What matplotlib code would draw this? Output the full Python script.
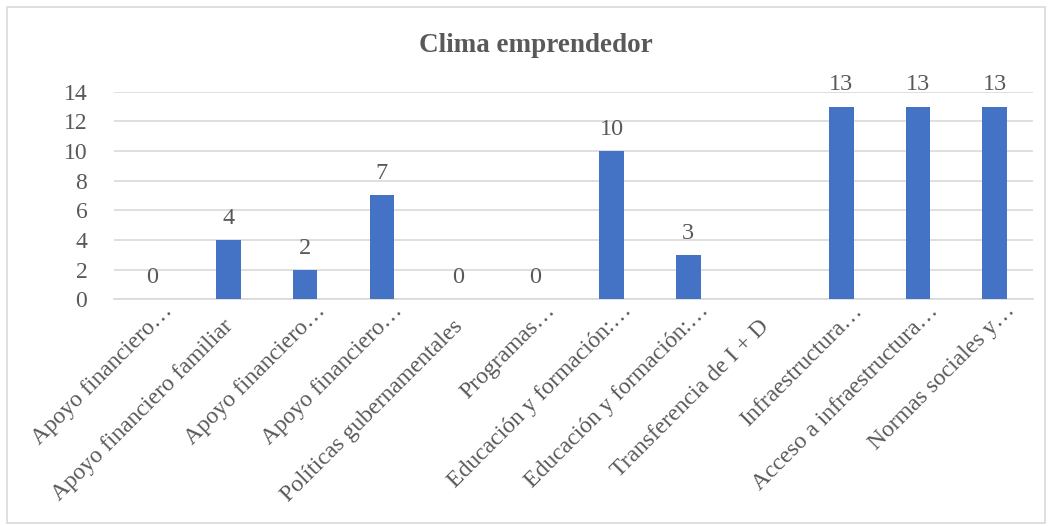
import numpy as np
import matplotlib
matplotlib.use("Agg")
import matplotlib.pyplot as plt
import matplotlib.transforms as mtransforms
from matplotlib.patches import Rectangle

categories = [
    "Apoyo financiero…",
    "Apoyo financiero familiar",
    "Apoyo financiero…",
    "Apoyo financiero…",
    "Políticas gubernamentales",
    "Programas…",
    "Educación y formación:…",
    "Educación y formación:…",
    "Transferencia de I + D",
    "Infraestructura…",
    "Acceso a infraestructura…",
    "Normas sociales y…",
]
values = [0, 4, 2, 7, 0, 0, 10, 3, np.nan, 13, 13, 13]
yticks = [0, 2, 4, 6, 8, 10, 12, 14]
title = "Clima emprendedor"

TXT = "#595959"
plt.rcParams['font.family'] = ['Liberation Serif', 'DejaVu Serif']

fig = plt.figure(figsize=(10.52, 5.26), dpi=100)
ax = fig.add_axes([113.7 / 1052, 1 - 299.3 / 526, (1033 - 113.7) / 1052, (299.3 - 91.7) / 526])

x = np.arange(len(categories))
vals = np.array(values, dtype=float)
ax.bar(x, np.nan_to_num(vals), width=0.32, color="#4472C4", zorder=3)

for xi, v in zip(x, vals):
    if np.isnan(v):
        continue
    ax.annotate(f"{int(v)}", (xi, v), xytext=(0, 8), textcoords="offset points",
                ha="center", va="bottom", fontsize=17.5, color=TXT)

ax.set_xlim(-0.5, 11.5)
ax.set_ylim(0, 14)
ax.set_yticks(yticks)
ax.set_yticklabels([str(t) for t in yticks])
ax.yaxis.grid(True, color="#D9D9D9", linewidth=1.2, zorder=0)
ax.set_axisbelow(True)
for s in ["top", "right", "left"]:
    ax.spines[s].set_visible(False)
ax.spines["bottom"].set_color("#D9D9D9")
ax.spines["bottom"].set_linewidth(1.2)
ax.tick_params(axis="y", length=0, labelsize=17, labelcolor=TXT, pad=19)
ax.tick_params(axis="x", length=0, labelsize=17, labelcolor=TXT, pad=5)
ax.set_xticks(x)
ax.set_xticklabels(categories, rotation=45, ha="right", va="top", rotation_mode="anchor")
for lbl in ax.get_xticklabels():
    if lbl.get_text().endswith("…"):
        dx, dy = 10, 6
    else:
        dx, dy = -6, -10
    off = mtransforms.ScaledTranslation(dx / 100, dy / 100, fig.dpi_scale_trans)
    lbl.set_transform(lbl.get_transform() + off)

fig.text(536 / 1052, 1 - 45 / 526, title, ha="center", va="center",
         fontsize=19.5, fontweight="bold", color=TXT)

fig.patches.append(Rectangle((7 / 1052, 3 / 526), 1038 / 1052, 516 / 526,
                             transform=fig.transFigure, fill=False,
                             edgecolor="#D9D9D9", linewidth=1.2))

fig.savefig("out.png", dpi=100)
